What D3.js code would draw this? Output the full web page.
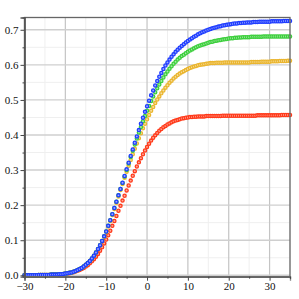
<!DOCTYPE html>
<html>
<head>
<meta charset="utf-8">
<script src="https://cdn.jsdelivr.net/npm/d3@7"></script>
<style>
  body { margin: 0; background: #fff; }
  svg { display: block; }
  .tick text { font-family: "Liberation Serif", "DejaVu Serif", serif; font-size: 11px; fill: #111; }
</style>
</head>
<body>
<div id="chart"></div>
<script>
// x sample grid (every 0.5 from -30 to 35)
const xs = d3.range(-30, 35.25, 0.5);

// series values, one per x sample
const blue = [
  0.000,0.000,0.000,0.000,0.000,0.000,0.000,0.001,0.001,0.001,
  0.001,0.001,0.001,0.002,0.002,0.002,0.002,0.003,0.003,0.004,
  0.005,0.006,0.007,0.008,0.010,0.012,0.015,0.018,0.021,0.025,
  0.030,0.035,0.041,0.048,0.056,0.065,0.075,0.086,0.098,0.111,
  0.125,0.141,0.157,0.174,0.192,0.210,0.228,0.246,0.264,0.283,
  0.302,0.321,0.340,0.359,0.378,0.396,0.414,0.432,0.449,0.466,
  0.482,0.498,0.513,0.527,0.541,0.554,0.566,0.577,0.588,0.598,
  0.607,0.615,0.623,0.630,0.637,0.643,0.649,0.654,0.659,0.664,
  0.668,0.672,0.676,0.680,0.683,0.687,0.690,0.693,0.695,0.698,
  0.700,0.702,0.704,0.706,0.707,0.709,0.710,0.712,0.713,0.714,
  0.715,0.716,0.717,0.718,0.718,0.719,0.719,0.720,0.720,0.721,
  0.721,0.721,0.722,0.722,0.722,0.723,0.723,0.723,0.723,0.723,
  0.723,0.724,0.724,0.724,0.724,0.724,0.724,0.725,0.725,0.725,
  0.725
];
const green = [
  0.000,0.000,0.000,0.000,0.000,0.000,0.000,0.001,0.001,0.001,
  0.001,0.001,0.001,0.002,0.002,0.002,0.002,0.003,0.003,0.004,
  0.005,0.006,0.007,0.008,0.010,0.012,0.015,0.018,0.021,0.025,
  0.030,0.035,0.041,0.048,0.056,0.065,0.075,0.086,0.098,0.111,
  0.125,0.141,0.157,0.174,0.192,0.210,0.228,0.246,0.263,0.282,
  0.300,0.319,0.337,0.355,0.373,0.390,0.407,0.423,0.439,0.454,
  0.469,0.483,0.497,0.510,0.522,0.533,0.544,0.554,0.564,0.573,
  0.581,0.589,0.596,0.603,0.609,0.615,0.620,0.625,0.629,0.633,
  0.637,0.641,0.644,0.647,0.650,0.653,0.655,0.657,0.659,0.661,
  0.663,0.665,0.666,0.668,0.669,0.670,0.671,0.672,0.673,0.674,
  0.675,0.676,0.676,0.677,0.677,0.678,0.678,0.679,0.679,0.679,
  0.679,0.680,0.680,0.680,0.680,0.680,0.680,0.681,0.681,0.681,
  0.681,0.681,0.681,0.681,0.681,0.681,0.681,0.681,0.681,0.681,
  0.681
];
const yellow = [
  0.000,0.000,0.000,0.000,0.000,0.000,0.000,0.001,0.001,0.001,
  0.001,0.001,0.001,0.002,0.002,0.002,0.002,0.003,0.003,0.004,
  0.005,0.006,0.007,0.008,0.010,0.012,0.015,0.018,0.021,0.025,
  0.030,0.035,0.041,0.048,0.056,0.065,0.075,0.086,0.098,0.110,
  0.124,0.139,0.155,0.172,0.189,0.207,0.225,0.243,0.260,0.278,
  0.295,0.312,0.329,0.345,0.361,0.376,0.391,0.405,0.419,0.432,
  0.445,0.457,0.469,0.480,0.491,0.501,0.510,0.519,0.527,0.535,
  0.542,0.549,0.555,0.561,0.566,0.571,0.575,0.579,0.582,0.585,
  0.588,0.591,0.593,0.595,0.597,0.599,0.600,0.601,0.602,0.603,
  0.604,0.605,0.605,0.605,0.606,0.606,0.606,0.606,0.607,0.607,
  0.607,0.607,0.607,0.607,0.607,0.607,0.607,0.607,0.607,0.607,
  0.607,0.608,0.608,0.608,0.608,0.608,0.609,0.609,0.609,0.609,
  0.609,0.610,0.610,0.610,0.610,0.611,0.611,0.611,0.611,0.612,
  0.612
];
const red = [
  0.000,0.000,0.000,0.000,0.000,0.000,0.000,0.000,0.001,0.001,
  0.001,0.001,0.001,0.001,0.002,0.002,0.002,0.002,0.003,0.003,
  0.004,0.005,0.006,0.007,0.009,0.011,0.013,0.015,0.018,0.021,
  0.025,0.029,0.034,0.040,0.046,0.053,0.061,0.070,0.080,0.091,
  0.102,0.114,0.127,0.141,0.155,0.169,0.184,0.198,0.213,0.227,
  0.242,0.256,0.270,0.284,0.297,0.310,0.322,0.334,0.345,0.356,
  0.366,0.375,0.384,0.392,0.399,0.406,0.412,0.417,0.422,0.426,
  0.430,0.433,0.436,0.439,0.441,0.443,0.445,0.447,0.448,0.449,
  0.450,0.451,0.451,0.452,0.452,0.453,0.453,0.453,0.453,0.454,
  0.454,0.454,0.454,0.454,0.454,0.454,0.454,0.455,0.455,0.455,
  0.455,0.455,0.455,0.455,0.455,0.455,0.455,0.455,0.455,0.455,
  0.455,0.455,0.455,0.455,0.456,0.456,0.456,0.456,0.456,0.456,
  0.456,0.456,0.456,0.456,0.456,0.456,0.457,0.457,0.457,0.457,
  0.457
];

const xTicks = [-30, -20, -10, 0, 10, 20, 30];
const xMinor = [-25, -15, -5, 5, 15, 25, 35];
const yTicks = [0, 0.1, 0.2, 0.3, 0.4, 0.5, 0.6, 0.7];
const yMinor = [0.05, 0.15, 0.25, 0.35, 0.45, 0.55, 0.65];

// drawn back to front
const series = [
  { name: "red", values: red, color: "#ff3a1a" },
  { name: "yellow", values: yellow, color: "#eab52e" },
  { name: "green", values: green, color: "#3ccf3c" },
  { name: "blue", values: blue, color: "#1f3dff" }
];

const W = 299, H = 299;
const margin = { top: 17.5, right: 9, bottom: 22.3, left: 24.5 };

const svg = d3.select("#chart").append("svg")
  .attr("width", W)
  .attr("height", H);

const x = d3.scaleLinear().domain([-30, 35]).range([margin.left, W - margin.right]);
const y = d3.scaleLinear().domain([-0.004, 0.735]).range([H - margin.bottom, margin.top]);

// minor grid
svg.append("g").selectAll("line").data(xMinor).join("line")
  .attr("x1", d => x(d)).attr("x2", d => x(d))
  .attr("y1", margin.top).attr("y2", H - margin.bottom)
  .attr("stroke", "#efefef").attr("stroke-width", 1);
svg.append("g").selectAll("line").data(yMinor).join("line")
  .attr("x1", margin.left).attr("x2", W - margin.right)
  .attr("y1", d => y(d)).attr("y2", d => y(d))
  .attr("stroke", "#efefef").attr("stroke-width", 1);

// major grid
svg.append("g").selectAll("line").data(xTicks).join("line")
  .attr("x1", d => x(d)).attr("x2", d => x(d))
  .attr("y1", margin.top).attr("y2", H - margin.bottom)
  .attr("stroke", "#c4c4c4").attr("stroke-width", 1.2);
svg.append("g").selectAll("line").data(yTicks).join("line")
  .attr("x1", margin.left).attr("x2", W - margin.right)
  .attr("y1", d => y(d)).attr("y2", d => y(d))
  .attr("stroke", "#cfcfcf").attr("stroke-width", 1.4);

// points
series.forEach(s => {
  svg.append("g")
    .selectAll("circle")
    .data(xs.map((xv, i) => [xv, s.values[i]]))
    .join("circle")
    .attr("cx", d => x(d[0]))
    .attr("cy", d => y(d[1]))
    .attr("r", 1.6)
    .attr("fill", d3.interpolateRgb(s.color, "#fff")(0.55))
    .attr("stroke", s.color)
    .attr("stroke-width", 1.3);
});

// frame (top/right)
svg.append("rect")
  .attr("x", margin.left).attr("y", margin.top)
  .attr("width", W - margin.right - margin.left)
  .attr("height", H - margin.bottom - margin.top)
  .attr("fill", "none").attr("stroke", "#666").attr("stroke-width", 1.3);

// axes
const xAxis = svg.append("g")
  .attr("transform", `translate(0,${H - margin.bottom})`)
  .call(d3.axisBottom(x).tickValues(xTicks).tickSize(4).tickPadding(2).tickFormat(d3.format("d")));
svg.append("g")
  .attr("transform", `translate(0,${H - margin.bottom})`)
  .call(d3.axisBottom(x).tickValues(xMinor).tickSize(2).tickFormat(""));

const yAxis = svg.append("g")
  .attr("transform", `translate(${margin.left},0)`)
  .call(d3.axisLeft(y).tickValues(yTicks).tickSize(4).tickPadding(2).tickFormat(d3.format(".1f")));
svg.append("g")
  .attr("transform", `translate(${margin.left},0)`)
  .call(d3.axisLeft(y).tickValues(yMinor).tickSize(2).tickFormat(""));

svg.selectAll(".domain").attr("stroke", "#555").attr("stroke-width", 1.3);
svg.selectAll(".tick line").attr("stroke", "#444");
xAxis.selectAll(".domain").attr("stroke", "#888");
</script>
</body>
</html>
